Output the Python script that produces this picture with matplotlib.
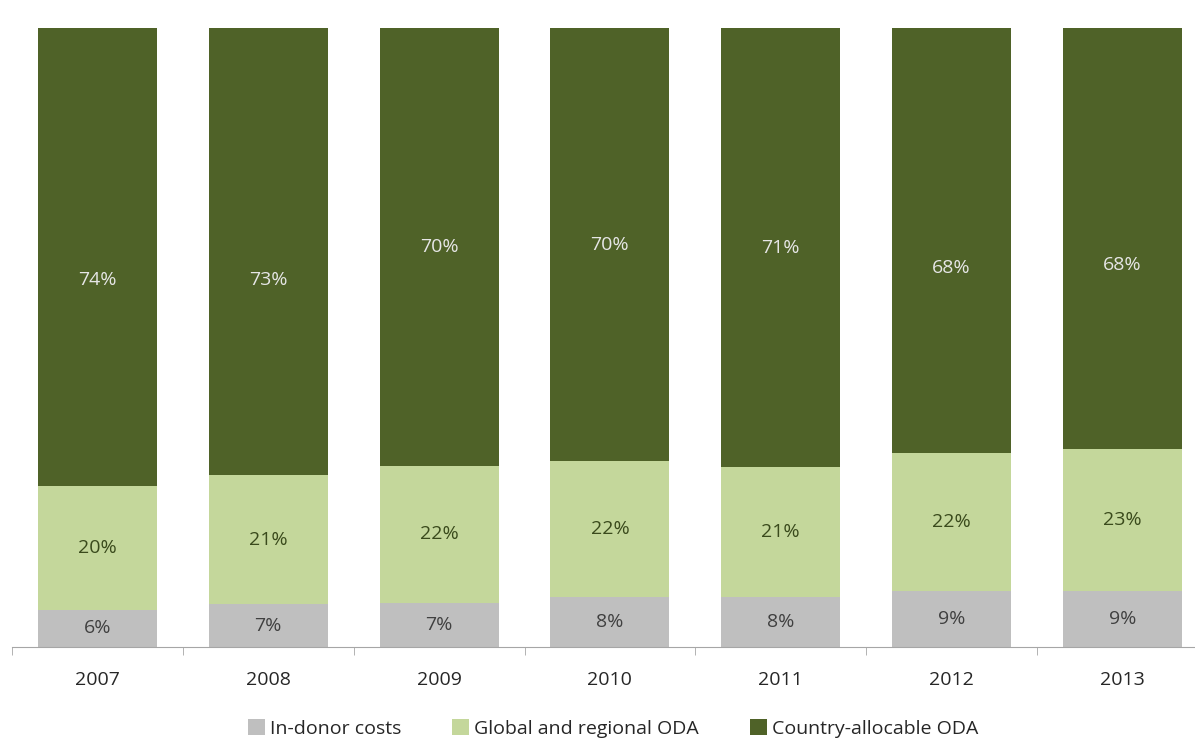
import numpy as np
import matplotlib
matplotlib.use('Agg')
import matplotlib.pyplot as plt

years = ['2007', '2008', '2009', '2010', '2011', '2012', '2013']
in_donor = [6, 7, 7, 8, 8, 9, 9]
global_regional = [20, 21, 22, 22, 21, 22, 23]
country_allocable = [74, 73, 70, 70, 71, 68, 68]

series_names = ['In-donor costs', 'Global and regional ODA', 'Country-allocable ODA']
colors = ['#BFBFBF', '#C4D79B', '#4F6228']
label_colors = ['#404040', '#3A4A1C', '#E6E6E6']

plt.rcParams['font.family'] = ['Open Sans', 'DejaVu Sans']

fig = plt.figure(figsize=(11.95, 7.40), dpi=100)
# the right end of the axis runs just past the picture edge
ax = fig.add_axes([0.01, 0.1257, 1.0008, 0.8365])

values = np.array([in_donor, global_regional, country_allocable], dtype=float)
shares = values / values.sum(axis=0) * 100
x = np.arange(len(years))

# the labels in the dark segments sit a little lower on some bars (pixels)
dark_shift = [-23, -28, 0, 0, 0, -27, -27]

bottom = np.zeros(len(years))
for i in range(3):
    ax.bar(x, shares[i], bottom=bottom, width=0.697, color=colors[i],
           label=series_names[i], linewidth=0)
    for j in range(len(years)):
        shift = dark_shift[j] * 0.72 if i == 2 else 0
        ax.annotate('{:.0f}%'.format(values[i][j]),
                    (x[j], bottom[j] + shares[i][j] / 2),
                    xytext=(0, shift), textcoords='offset points',
                    ha='center', va='center', fontsize=14,
                    color=label_colors[i])
    bottom += shares[i]

ax.set_xlim(-0.5, len(years) - 0.5)
ax.set_ylim(0, 100)
ax.set_yticks([])
for s in ['top', 'right', 'left']:
    ax.spines[s].set_visible(False)
ax.spines['bottom'].set_color('#A6A6A6')

ax.set_xticks(x)
ax.set_xticklabels(years, fontsize=14, color='#262626')
ax.tick_params(axis='x', which='major', length=0, pad=17)
ax.set_xticks(np.arange(-0.5, len(years), 1), minor=True)
ax.tick_params(axis='x', which='minor', length=6, color='#A6A6A6')

fig.legend(loc='center', bbox_to_anchor=(0.513, 0.016), ncol=3, frameon=False,
           fontsize=14, handlelength=0.9, handleheight=0.9,
           handletextpad=0.25, columnspacing=2.6, labelcolor='#262626')

fig.savefig('out.png', dpi=100)
